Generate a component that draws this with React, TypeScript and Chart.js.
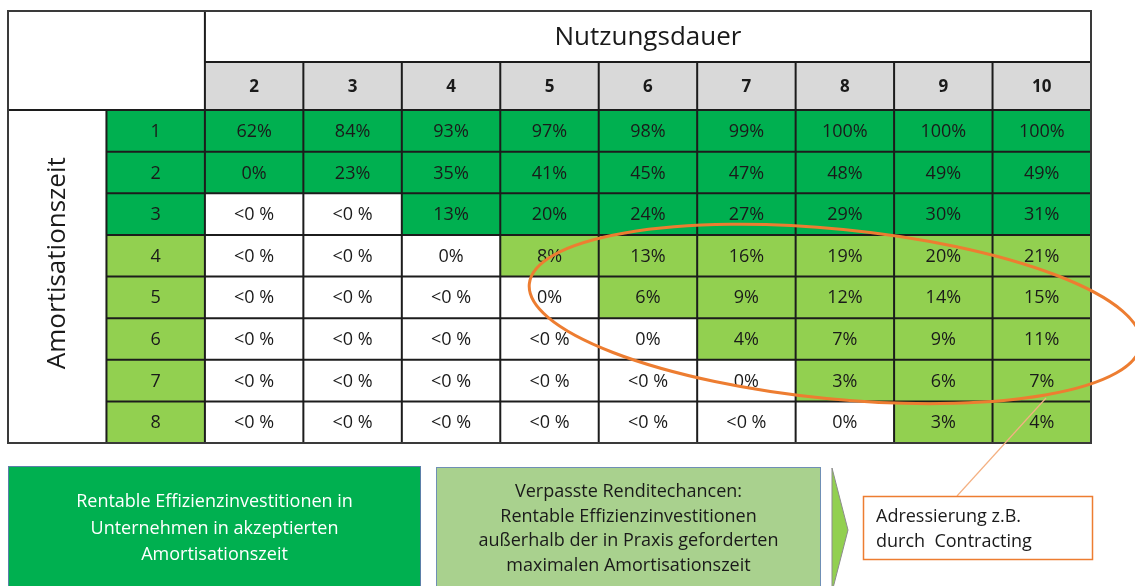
import React, { useEffect, useRef } from 'react';
import { Chart, registerables } from 'chart.js';

Chart.register(...registerables);

// ---------- data ----------
const columnTitle = 'Nutzungsdauer';
const rowTitle = 'Amortisationszeit';
const usefulLife = ['2', '3', '4', '5', '6', '7', '8', '9', '10'];
const paybackYears = ['1', '2', '3', '4', '5', '6', '7', '8'];
const acceptedPayback = 3; // years accepted in practice

// returns in %, null = negative ("<0 %")
const row1 = [62, 84, 93, 97, 98, 99, 100, 100, 100];
const row2 = [0, 23, 35, 41, 45, 47, 48, 49, 49];
const row3 = [null, null, 13, 20, 24, 27, 29, 30, 31];
const row4 = [null, null, 0, 8, 13, 16, 19, 20, 21];
const row5 = [null, null, null, 0, 6, 9, 12, 14, 15];
const row6 = [null, null, null, null, 0, 4, 7, 9, 11];
const row7 = [null, null, null, null, null, 0, 3, 6, 7];
const row8 = [null, null, null, null, null, null, 0, 3, 4];
const returnRows: (number | null)[][] = [row1, row2, row3, row4, row5, row6, row7, row8];

const legendAccepted = [
  'Rentable Effizienzinvestitionen in',
  'Unternehmen in akzeptierten',
  'Amortisationszeit',
];
const legendMissed = [
  'Verpasste Renditechancen:',
  'Rentable Effizienzinvestitionen',
  'außerhalb der in Praxis geforderten',
  'maximalen Amortisationszeit',
];
const calloutText = ['Adressierung z.B.', 'durch  Contracting'];

// ---------- styles ----------
const FONT = '"Open Sans", "Noto Sans", sans-serif';
const DARK = '#00B050';
const LIGHT = '#92D050';
const HEAD = '#D9D9D9';
const PALE = '#A9D18E';
const LINE = '#1c1c1c';
const TEXT = '#1a1a1a';
const ORANGE = '#ED7D31';
const HEADER_SPAN = 1.154; // column-header row height (in row units)
const TITLE_SPAN = 1.226; // title row height (in row units)

const fmt = (v: number | null) => (v === null ? '<0 %' : `${v}%`);
const cellColor = (v: number | null, year: number) => {
  if (v === null) return '#FFFFFF';
  if (year <= acceptedPayback) return DARK;
  return v > 0 ? LIGHT : '#FFFFFF';
};
const rowLabelColor = (year: number) => (year <= acceptedPayback ? DARK : LIGHT);

const labels = ['axis', 'rowlabel', ...usefulLife];
const firstData = 2;
const top = -(HEADER_SPAN + TITLE_SPAN);

const tablePlugin = {
  id: 'tableDecor',
  afterDatasetsDraw(chart: any) {
    const ctx = chart.ctx as CanvasRenderingContext2D;
    const xs = chart.scales.x;
    const ys = chart.scales.y;
    const nRows = paybackYears.length;
    const colEdge = (i: number) => xs.getPixelForValue(i - 0.5);
    const rowPx = (v: number) => ys.getPixelForValue(v);
    ctx.save();

    // grid lines
    ctx.strokeStyle = LINE;
    ctx.lineWidth = 2;
    const seg = (x1: number, y1: number, x2: number, y2: number) => {
      ctx.beginPath();
      ctx.moveTo(x1, y1);
      ctx.lineTo(x2, y2);
      ctx.stroke();
    };
    const L = labels.length;
    // horizontal
    seg(colEdge(firstData), rowPx(-HEADER_SPAN), colEdge(L), rowPx(-HEADER_SPAN));
    seg(colEdge(0), rowPx(0), colEdge(L), rowPx(0));
    for (let r = 1; r < nRows; r++) seg(colEdge(1), rowPx(r), colEdge(L), rowPx(r));
    // vertical
    seg(colEdge(1), rowPx(0), colEdge(1), rowPx(nRows));
    seg(colEdge(firstData), rowPx(top), colEdge(firstData), rowPx(nRows));
    for (let i = firstData + 1; i < L; i++) seg(colEdge(i), rowPx(-HEADER_SPAN), colEdge(i), rowPx(nRows));
    // outer frame
    ctx.strokeStyle = '#3a3a3a';
    ctx.strokeRect(colEdge(0), rowPx(top), colEdge(L) - colEdge(0), rowPx(nRows) - rowPx(top));

    // cell texts
    ctx.textAlign = 'center';
    ctx.textBaseline = 'middle';
    chart.data.datasets.forEach((ds: any, di: number) => {
      if (!ds.cellText) return;
      const meta = chart.getDatasetMeta(di);
      meta.data.forEach((el: any, i: number) => {
        const t = ds.cellText[i];
        if (!t) return;
        const c = el.getCenterPoint();
        ctx.font = ds.cellFont;
        ctx.fillStyle = TEXT;
        ctx.fillText(t, c.x, c.y + 1);
      });
    });
    // merged title cell text
    const tx = (xs.getPixelForValue(firstData) + xs.getPixelForValue(L - 1)) / 2;
    const ty = (rowPx(top) + rowPx(-HEADER_SPAN)) / 2;
    ctx.font = `26px ${FONT}`;
    ctx.fillStyle = TEXT;
    ctx.fillText(columnTitle, tx, ty + 1);
    // rotated axis title
    const ax = xs.getPixelForValue(0);
    const ay = rowPx(nRows / 2 - 0.32);
    ctx.translate(ax, ay);
    ctx.rotate(-Math.PI / 2);
    ctx.font = `26px ${FONT}`;
    ctx.fillText(rowTitle, 0, 0);
    ctx.restore();
  },
  afterDraw(chart: any) {
    const ctx = chart.ctx as CanvasRenderingContext2D;
    const xs = chart.scales.x;
    const ys = chart.scales.y;
    const area = chart.chartArea;
    const colW = xs.getPixelForValue(1) - xs.getPixelForValue(0);
    const rowH = ys.getPixelForValue(1) - ys.getPixelForValue(0);
    ctx.save();

    // bottom legend boxes
    const by = area.bottom + 23;
    const l = area.left;
    ctx.fillStyle = DARK;
    ctx.fillRect(l, by, 413, 140);
    ctx.strokeStyle = '#5B7FA8';
    ctx.lineWidth = 1;
    ctx.strokeRect(l + 0.5, by + 0.5, 412, 140);
    ctx.textAlign = 'center';
    ctx.textBaseline = 'middle';
    ctx.font = `18px ${FONT}`;
    ctx.fillStyle = '#FFFFFF';
    legendAccepted.forEach((s, i) => ctx.fillText(s, l + 206.5, by + 36 + i * 26.5));

    const lx = l + 428;
    ctx.fillStyle = PALE;
    ctx.fillRect(lx, by + 1, 385, 140);
    ctx.strokeStyle = '#6F8FB5';
    ctx.strokeRect(lx + 0.5, by + 1.5, 384, 140);
    ctx.fillStyle = TEXT;
    legendMissed.forEach((s, i) => ctx.fillText(s, lx + 192.5, by + 26 + i * 24.5));

    // chevron
    const cx0 = l + 824;
    ctx.beginPath();
    ctx.moveTo(cx0, by + 2);
    ctx.lineTo(cx0 + 16, by + 64);
    ctx.lineTo(cx0, by + 126);
    ctx.closePath();
    ctx.fillStyle = LIGHT;
    ctx.fill();
    ctx.strokeStyle = '#8C8C8C';
    ctx.lineWidth = 1;
    ctx.stroke();

    // connector line
    ctx.beginPath();
    ctx.moveTo(1046, 398);
    ctx.lineTo(957, 496);
    ctx.strokeStyle = '#F4B183';
    ctx.lineWidth = 1.2;
    ctx.stroke();

    // callout box
    ctx.fillStyle = '#FFFFFF';
    ctx.fillRect(863, 496, 229, 64);
    ctx.strokeStyle = ORANGE;
    ctx.lineWidth = 1.5;
    ctx.strokeRect(863.5, 496.5, 229, 63);
    ctx.textAlign = 'left';
    ctx.fillStyle = TEXT;
    calloutText.forEach((s, i) => ctx.fillText(s, 876, 517 + i * 25));

    // highlighting ellipse around missed opportunities
    const ex = xs.getPixelForValue(7.9);
    const ey = ys.getPixelForValue(4.9);
    ctx.beginPath();
    ctx.ellipse(ex, ey, 3.12 * colW, 2.04 * rowH, 0.098, 0, Math.PI * 2);
    ctx.strokeStyle = ORANGE;
    ctx.lineWidth = 3;
    ctx.stroke();
    ctx.restore();
  },
};

export default function App() {
  const ref = useRef<HTMLCanvasElement | null>(null);

  useEffect(() => {
    if (!ref.current) return;

    const rowSets = returnRows.map((vals, r) => ({
      label: `${rowTitle} ${paybackYears[r]}`,
      data: labels.map((_, i) => (i === 0 ? null : [r, r + 1])),
      backgroundColor: labels.map((_, i) =>
        i === 0 ? '#FFFFFF' : i === 1 ? rowLabelColor(r + 1) : cellColor(vals[i - firstData], r + 1)
      ),
      cellText: labels.map((_, i) =>
        i === 0 ? '' : i === 1 ? paybackYears[r] : fmt(vals[i - firstData])
      ),
      cellFont: `18px ${FONT}`,
    }));

    const headerSet = {
      label: columnTitle,
      data: labels.map((_, i) => (i >= firstData ? [-HEADER_SPAN, 0] : null)),
      backgroundColor: HEAD,
      cellText: labels.map((_, i) => (i >= firstData ? usefulLife[i - firstData] : '')),
      cellFont: `bold 17px ${FONT}`,
    };

    const titleSet = {
      label: 'title',
      data: labels.map((_, i) => (i >= firstData ? [top, -HEADER_SPAN] : null)),
      backgroundColor: '#FFFFFF',
    };

    const cornerSet = {
      label: 'corner',
      data: labels.map((_, i) => (i < firstData ? [top, 0] : null)),
      backgroundColor: '#FFFFFF',
    };

    const axisSet = {
      label: rowTitle,
      data: labels.map((_, i) => (i === 0 ? [0, paybackYears.length] : null)),
      backgroundColor: '#FFFFFF',
    };

    const chart = new Chart(ref.current, {
      type: 'bar',
      data: {
        labels,
        datasets: [...rowSets, headerSet, titleSet, cornerSet, axisSet] as any,
      },
      options: {
        animation: false,
        responsive: false,
        events: [],
        layout: { padding: { left: 8, top: 11, right: 44, bottom: 143 } },
        datasets: {
          bar: {
            barPercentage: 1,
            categoryPercentage: 1,
            borderWidth: 0,
            borderSkipped: false,
            inflateAmount: 0.5,
          },
        } as any,
        scales: {
          x: { type: 'category', display: false, stacked: true, offset: true, grid: { display: false } },
          y: {
            type: 'linear',
            display: false,
            reverse: true,
            min: top,
            max: paybackYears.length,
            grid: { display: false },
          },
        },
        plugins: {
          legend: { display: false },
          tooltip: { enabled: false },
          title: { display: false },
        },
      },
      plugins: [tablePlugin],
    });
    return () => chart.destroy();
  }, []);

  return (
    <div style={{ position: 'fixed', left: 0, top: 0, width: 1135, height: 586, background: '#FFFFFF' }}>
      <canvas ref={ref} width={1135} height={586} style={{ display: 'block' }} />
    </div>
  );
}
